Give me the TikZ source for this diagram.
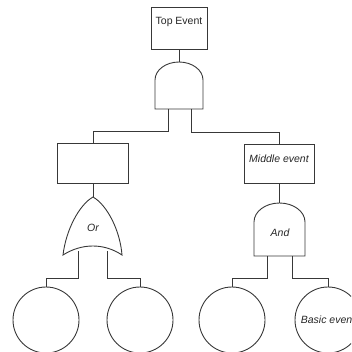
\documentclass[tikz,border=0pt]{standalone}
\usepackage{fontspec}
\setmainfont{Liberation Sans}
\begin{document}
\begin{tikzpicture}[x=1pt,y=-1pt,
  ln/.style={draw=black!78, line width=0.9pt},
  evbox/.style={ln, rectangle, inner sep=0pt},
  basic/.style={ln, circle, minimum size=66pt, inner sep=0pt},
  lbl/.style={font=\fontsize{10.5}{12}\selectfont, text=black!85, inner sep=0pt},
  ilbl/.style={lbl, font=\fontsize{10.5}{12}\selectfont\itshape}]
\useasboundingbox (0,0) rectangle (351,352);
\clip (0,0) rectangle (351,352);
% events
\node[evbox, minimum width=56pt, minimum height=42pt] (top) at (179,28) {};
\node[lbl] (toptxt) at (179,22) {Top Event};
\node[evbox, minimum width=71pt, minimum height=40pt] (lbox) at (93,163) {};
\node[evbox, minimum width=70pt, minimum height=39pt] (mbox) at (279,163.5) {};
\node[ilbl] (mtxt) at (279,159) {Middle event};
\node[basic] (c1) at (46,320) {};
\node[basic] (c2) at (140,320) {};
\node[basic] (c3) at (232,320) {};
\node[basic, font=\fontsize{10.5}{12}\selectfont\itshape, text=black!85] (c4) at (328,320) {Basic event};
% top AND gate
\draw[ln] (155,109) -- (155,80) arc[start angle=180, end angle=0, x radius=24pt, y radius=18pt] -- (203,109) -- cycle;
\coordinate (g1in) at (179,62);
\coordinate (g1L) at (168,109);
\coordinate (g1R) at (191,109);
% OR gate
\draw[ln] (63,255) .. controls (66,230) and (79,205) .. (93,197)
  .. controls (107,205) and (120,230) .. (122,255)
  .. controls (104,243) and (82,243) .. cycle;
\node[ilbl] (ortxt) at (93,228) {Or};
\coordinate (g2in) at (93,197);
\coordinate (g2L) at (78,251);
\coordinate (g2R) at (107,251);
% middle AND gate
\draw[ln] (254,256) -- (254,222) arc[start angle=180, end angle=0, x radius=25.5pt, y radius=19pt] -- (305,256) -- cycle;
\node[ilbl] (andtxt) at (280,233) {And};
\coordinate (g3in) at (279.5,203);
\coordinate (g3L) at (267,256);
\coordinate (g3R) at (292,256);
% connectors
\draw[ln] (top.south) -- (g1in);
\draw[ln] (g1L) -- ++(0,22) -| (lbox.north);
\draw[ln] (g1R) -- ++(0,23) -| (mbox.north);
\draw[ln] (lbox.south) -- (g2in);
\draw[ln] (mbox.south -| g3in) -- (g3in);
\draw[ln] (g2L) -- ++(0,27) -| (c1.north);
\draw[ln] (g2R) -- ++(0,27) -| (c2.north);
\draw[ln] (g3L) -- ++(0,22) -| (c3.north);
\draw[ln] (g3R) -- ++(0,22) -| (c4.north);
\end{tikzpicture}
\end{document}
